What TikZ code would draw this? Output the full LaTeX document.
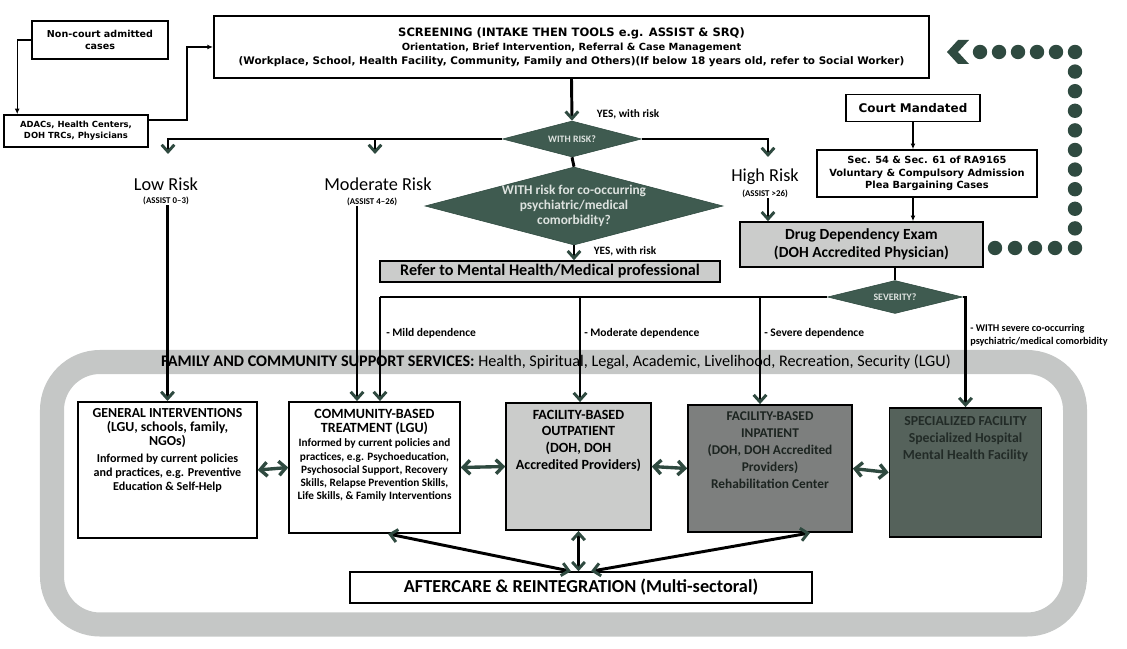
\documentclass[tikz,border=0pt]{standalone}
\usepackage{fontspec}
\setmainfont{Carlito}
\newfontfamily\verdana{DejaVu Sans}
\usepackage{xcolor}
\usetikzlibrary{positioning,shapes.geometric,arrows.meta}

\definecolor{dkgreen}{HTML}{2F4A40}
\definecolor{diamondfill}{HTML}{3F5B50}
\definecolor{diamondtext}{HTML}{DDE2DF}
\definecolor{bandgrey}{HTML}{C5C7C6}
\definecolor{lightgrey}{HTML}{CBCCCB}
\definecolor{midgrey}{HTML}{7D7F7E}
\definecolor{darkslate}{HTML}{55625B}
\definecolor{inktext}{HTML}{1C2420}
\definecolor{slatetext}{HTML}{222B27}

\newcommand{\topbox}[3]{\parbox[t][#2][t]{#1}{\centering #3}}

\begin{document}
\begin{tikzpicture}[x=0.025cm, y=-0.025cm]
  \tikzset{
    box/.style={draw, line width=1.1pt, fill=white, align=center, inner sep=1pt},
    verdbox/.style={box, font=\verdana\bfseries},
    greybox/.style={box, fill=lightgrey},
    facility/.style={box, inner xsep=2pt, inner ysep=5pt},
    decision/.style={diamond, draw=dkgreen, fill=diamondfill, text=diamondtext, inner sep=0pt, align=center, font=\bfseries\fontsize{7}{8}\selectfont},
    risklabel/.style={inner sep=0pt, font=\fontsize{13}{14}\selectfont},
    scorelabel/.style={inner sep=0pt, font=\bfseries\fontsize{6.3}{7}\selectfont},
    yeslabel/.style={inner sep=0pt, font=\bfseries\fontsize{8}{9}\selectfont},
    deplabel/.style={anchor=west, align=left, inner sep=0pt, font=\bfseries\fontsize{8.2}{9.5}\selectfont},
    flow/.style={line width=2.1pt},
    down/.style={flow, -{Straight Barb[length=5pt, width=9pt, color=dkgreen]}},
    thin/.style={line width=0.8pt, -{Latex[length=4pt, width=3.5pt]}},
    twoway/.style={dkgreen, line width=2.4pt, {Straight Barb[length=5pt, width=10pt]}-{Straight Barb[length=5pt, width=10pt]}},
    spoke/.style={flow, {Straight Barb[length=5pt, width=9pt, color=dkgreen]}-{Straight Barb[length=5pt, width=9pt, color=dkgreen]}}
  }
  \useasboundingbox (0,0) rectangle (1127,649);

  % support services band
  \draw[bandgrey, line width=0.6cm, rounded corners=1.2cm] (52,362) rectangle (1075,624.5);

  % intake
  \node[verdbox, minimum width=3.4cm, minimum height=0.95cm, font=\verdana\bfseries\fontsize{6.8}{9}\selectfont] (noncourt) at (100,40) {Non-court admitted\\cases};
  \node[verdbox, minimum width=3.6cm, minimum height=0.8cm, font=\verdana\bfseries\fontsize{6}{8}\selectfont] (adacs) at (76,131) {ADACs, Health Centers,\\DOH TRCs, Physicians};
  \node[verdbox, line width=1.3pt, minimum width=17.875cm, minimum height=1.55cm, font=\verdana\bfseries\fontsize{7}{10}\selectfont] (screening) at (571.5,47)
    {{\fontsize{8.2}{10}\selectfont SCREENING (INTAKE THEN TOOLS e.g. ASSIST \& SRQ)}\\
     Orientation, Brief Intervention, Referral \& Case Management\\
     {\fontsize{7.4}{10}\selectfont (Workplace, School, Health Facility, Community, Family and Others)(If below 18 years old, refer to Social Worker)}};
  \coordinate (bendA) at (187,47);

  % risk decisions
  \node[decision, aspect=3.86, minimum width=3.475cm, minimum height=0.9cm] (risk) at (572,139) {WITH RISK?};
  \node[decision, aspect=3.82, inner sep=-0.3cm, minimum width=7.45cm, minimum height=1.95cm, font=\bfseries\fontsize{9.5}{10.5}\selectfont] (comorb) at (574,206) {WITH risk for co-occurring\\psychiatric/medical\\comorbidity?};
  \node[yeslabel] (yes1) at (628,114) {YES, with risk};
  \node[yeslabel] (yes2) at (625,251) {YES, with risk};
  \node[greybox, minimum width=8.5cm, minimum height=0.525cm, font=\bfseries\fontsize{11.5}{12}\selectfont] (refer) at (550,271.5) {Refer to Mental Health/Medical professional};

  \coordinate (lowdrop) at (168,139);
  \coordinate (moddrop) at (375,139);
  \coordinate (highdrop) at (768,139);
  \coordinate (modline) at (357,0);

  \node[risklabel] (lowrisk) at (166,184) {Low Risk};
  \node[scorelabel] (lowscore) at (166,201) {(ASSIST 0–3)};
  \node[risklabel] (modrisk) at (378,184) {Moderate Risk};
  \node[scorelabel] (modscore) at (372,202) {(ASSIST 4–26)};
  \node[risklabel] (highrisk) at (765,177) {High Risk};
  \node[scorelabel] (highscore) at (765,194) {(ASSIST >26)};

  % court route
  \node[verdbox, minimum width=3.35cm, minimum height=0.675cm, font=\verdana\bfseries\fontsize{8.5}{10}\selectfont] (court) at (913,108) {Court Mandated};
  \node[verdbox, minimum width=5.5cm, minimum height=1.175cm, font=\verdana\bfseries\fontsize{7}{8.9}\selectfont] (sec) at (927,173.5) {Sec. 54 \& Sec. 61 of RA9165\\Voluntary \& Compulsory Admission\\Plea Bargaining Cases};
  \node[greybox, minimum width=6.075cm, minimum height=1.125cm, font=\bfseries\fontsize{11}{12.5}\selectfont] (drug) at (861.5,244.5) {Drug Dependency Exam\\(DOH Accredited Physician)};
  \node[decision, aspect=4.09, minimum width=3.375cm, minimum height=0.825cm] (severity) at (895,297) {SEVERITY?};

  \coordinate (milddrop) at (380,297);
  \coordinate (moddepdrop) at (580,297);
  \coordinate (sevdrop) at (760,297);

  \node[deplabel] (milddep) at (386,333) {- Mild dependence};
  \node[deplabel] (moddep) at (584,333) {- Moderate dependence};
  \node[deplabel] (sevdep) at (764,333) {- Severe dependence};
  \node[deplabel, font=\bfseries\fontsize{7.3}{9}\selectfont] (comorbdep) at (970,335) {- WITH severe co-occurring\\psychiatric/medical comorbidity};

  % services
  \node[facility] (general) at (167.5,470) {\topbox{4.33cm}{3.06cm}{\bfseries{\fontsize{9.8}{10}\selectfont GENERAL INTERVENTIONS\\(LGU, schools, family,\\NGOs)\\[2pt]}\fontsize{8.6}{9.8}\selectfont Informed by current policies\\and practices, e.g. Preventive\\Education \& Self-Help}};
  \node[facility] (community) at (374.5,467.5) {\topbox{4.13cm}{2.93cm}{\bfseries{\fontsize{10}{10}\selectfont COMMUNITY-BASED\\TREATMENT (LGU)\\[1pt]}\fontsize{8}{9.4}\selectfont Informed by current policies and\\practices, e.g. Psychoeducation,\\Psychosocial Support, Recovery\\Skills, Relapse Prevention Skills,\\Life Skills, \& Family Interventions}};
  \node[facility, fill=lightgrey] (outpatient) at (578.5,466.5) {\topbox{3.48cm}{2.83cm}{\bfseries\fontsize{10}{12}\selectfont FACILITY-BASED\\OUTPATIENT\\(DOH, DOH\\Accredited Providers)}};
  \node[facility, fill=midgrey, text=inktext] (inpatient) at (770,468.5) {\topbox{3.96cm}{2.83cm}{\bfseries\fontsize{9.5}{12}\selectfont FACILITY-BASED\\INPATIENT\\(DOH, DOH Accredited\\Providers)\\Rehabilitation Center}};
  \node[facility, fill=darkslate, text=slatetext] (specialized) at (965.5,472.5) {\topbox{3.66cm}{2.88cm}{\bfseries\fontsize{9.8}{12}\selectfont\vspace*{1pt}SPECIALIZED FACILITY\\Specialized Hospital\\Mental Health Facility}};
  \node[box, minimum width=11.55cm, minimum height=0.775cm, font=\bfseries\fontsize{13}{14}\selectfont] (aftercare) at (581,587.5) {AFTERCARE \& REINTEGRATION (Multi-sectoral)};

  % connectors
  \draw[thin] (noncourt.west) -| ([xshift=0.35cm]adacs.north west);
  \draw[thin] ([yshift=0.275cm]adacs.east) -| (bendA) -- (screening.west);
  \draw[down] (screening.south) -- (risk.north);
  \draw[down] (risk.west) -- (lowdrop) -- ++(0,15);
  \draw[down] (moddrop) -- ++(0,15);
  \draw[down] (risk.east) -- (highdrop) -- ++(0,18);
  \draw[flow] (risk.south) -- (comorb.north);
  \draw[down] (comorb.south) -- (refer.north -| comorb.south);
  \draw[thin] (court.south) -- (court.south |- sec.north);
  \draw[thin] (court.south |- sec.south) -- (court.south |- drug.north);
  \draw[down] (highscore.south -| highdrop) -- (highdrop |- drug.north);
  \draw[flow] (severity.north |- drug.south) -- (severity.north);
  \draw[flow] (severity.west) -- (milddrop);
  \draw[down] (milddrop) -- (milddrop |- community.north);
  \draw[down] (moddepdrop) -- (moddepdrop |- outpatient.north);
  \draw[down] (sevdrop) -- (sevdrop |- inpatient.north);
  \draw[down] (severity.east) -| (specialized.north);
  \draw[down] (lowscore.south -| general.north) -- (general.north);
  \draw[down] (modscore.south -| modline) -- (modline |- community.north);

  \draw[twoway] (general.east) -- (community.west);
  \draw[twoway] (community.east) -- (outpatient.west);
  \draw[twoway] (outpatient.east) -- (inpatient.west);
  \draw[twoway] (inpatient.east) -- (specialized.west);
  \draw[spoke] ([xshift=-0.25cm]aftercare.north) -- ([xshift=0.34cm]community.south);
  \draw[spoke] (outpatient.south) -- (outpatient.south |- aftercare.north);
  \draw[spoke] ([xshift=0.25cm]aftercare.north) -- ([xshift=1cm]inpatient.south);

  % return path to screening
  \fill[dkgreen] (947,52) -- (958,40) -- (969,40) -- (958,52) -- (969,64) -- (958,64) -- cycle;
  \foreach \x in {980,999,1018,1037,1056}
    \fill[dkgreen] (\x,52) circle[radius=0.18cm];
  \foreach \k in {0,...,10}
    \fill[dkgreen] (1075,{52+19.6*\k}) circle[radius=0.18cm];
  \foreach \x in {995,1015,1035,1055}
    \fill[dkgreen] (\x,248) circle[radius=0.18cm];

  \node[inner sep=0pt, font=\fontsize{11.5}{12}\selectfont] (famtitle) at (556,362) {\textbf{FAMILY AND COMMUNITY SUPPORT SERVICES:} Health, Spiritual, Legal, Academic, Livelihood, Recreation, Security (LGU)};
\end{tikzpicture}
\end{document}
